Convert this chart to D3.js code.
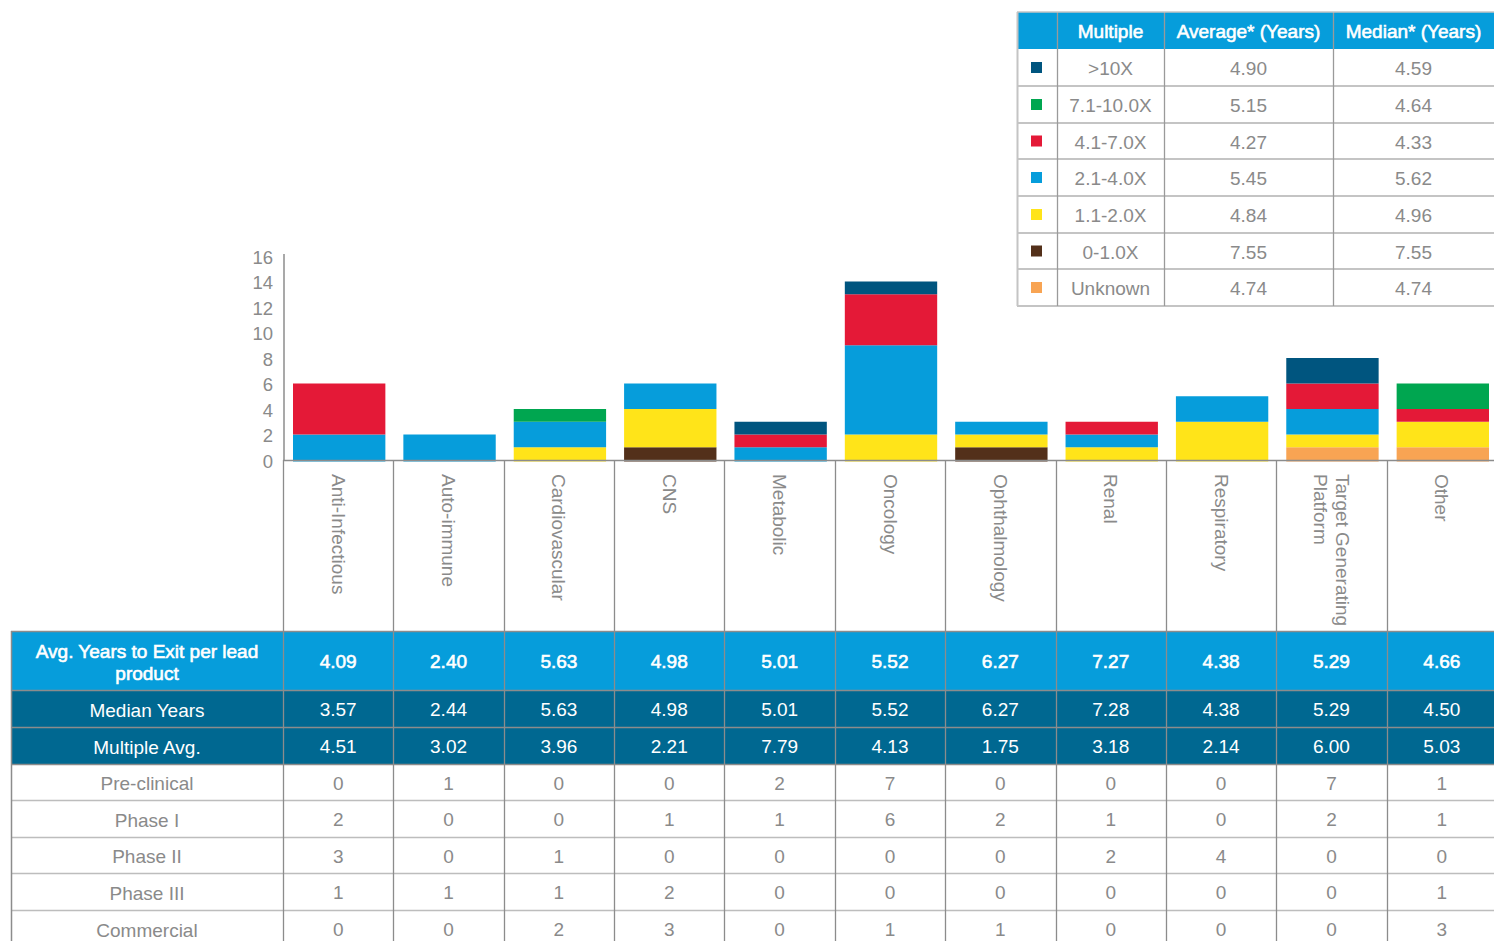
<!DOCTYPE html>
<html>
<head>
<meta charset="utf-8">
<script src="https://cdn.jsdelivr.net/npm/d3@7"></script>
<style>
  body { margin: 0; background: #fff; }
  text { font-family: "Liberation Sans", Arial, sans-serif; }
</style>
</head>
<body>
<svg id="chart" width="1494" height="941"></svg>
<script>
"use strict"

// categories along the x axis
const categories = ["Anti-Infectious", "Auto-immune", "Cardiovascular", "CNS", "Metabolic",
  "Oncology", "Ophthalmology", "Renal", "Respiratory", "Target Generating\nPlatform", "Other"]

// stacked counts per multiple bucket (bottom to top)
const unknownVals = [0, 0, 0, 0, 0, 0, 0, 0, 0, 1, 1]
const x0to1  = [0, 0, 0, 1, 0, 0, 1, 0, 0, 0, 0]
const x1to2  = [0, 0, 1, 3, 0, 2, 1, 1, 3, 1, 2]
const x2to4  = [2, 2, 2, 2, 1, 7, 1, 1, 2, 2, 0]
const x4to7  = [4, 0, 0, 0, 1, 4, 0, 1, 0, 2, 1]
const x7to10 = [0, 0, 1, 0, 0, 0, 0, 0, 0, 0, 2]
const x10plus = [0, 0, 0, 0, 1, 1, 0, 0, 0, 2, 0]

const yTicks = [0, 2, 4, 6, 8, 10, 12, 14, 16]

// table under the chart
const avgYears    = ["4.09", "2.40", "5.63", "4.98", "5.01", "5.52", "6.27", "7.27", "4.38", "5.29", "4.66"]
const medianYears = ["3.57", "2.44", "5.63", "4.98", "5.01", "5.52", "6.27", "7.28", "4.38", "5.29", "4.50"]
const multipleAvg = ["4.51", "3.02", "3.96", "2.21", "7.79", "4.13", "1.75", "3.18", "2.14", "6.00", "5.03"]
const preClinical = [0, 1, 0, 0, 2, 7, 0, 0, 0, 7, 1]
const phase1      = [2, 0, 0, 1, 1, 6, 2, 1, 0, 2, 1]
const phase2      = [3, 0, 1, 0, 0, 0, 0, 2, 4, 0, 0]
const phase3      = [1, 1, 1, 2, 0, 0, 0, 0, 0, 0, 1]
const commercial  = [0, 0, 2, 3, 0, 1, 1, 0, 0, 0, 3]

// legend table
const legendMultiples = [">10X", "7.1-10.0X", "4.1-7.0X", "2.1-4.0X", "1.1-2.0X", "0-1.0X", "Unknown"]
const legendAverage   = ["4.90", "5.15", "4.27", "5.45", "4.84", "7.55", "4.74"]
const legendMedian    = ["4.59", "4.64", "4.33", "5.62", "4.96", "7.55", "4.74"]
const legendHeader    = ["", "Multiple", "Average* (Years)", "Median* (Years)"]

const seriesKeys = ["unknown", "x0to1", "x1to2", "x2to4", "x4to7", "x7to10", "x10plus"]
const seriesVals = [unknownVals, x0to1, x1to2, x2to4, x4to7, x7to10, x10plus]
const colors = {
  x10plus: "#00557f", x7to10: "#00a650", x4to7: "#e41937", x2to4: "#069ddb",
  x1to2: "#ffe419", x0to1: "#53301a", unknown: "#f8a453"
}
const legendKeys = ["x10plus", "x7to10", "x4to7", "x2to4", "x1to2", "x0to1", "unknown"]

const lightBlue = "#069ddb"
const darkBlue = "#006891"
const gray = "#8a8a8a"
const lineGray = "#8c8c8c"
const fontSize = 19

const svg = d3.select("#chart")

const x = d3.scaleBand().domain(categories).range([283, 1497])
const y = d3.scaleLinear().domain([0, 16]).range([460, 256])

const rows = categories.map((c, i) => {
  const r = { cat: c }
  seriesKeys.forEach((k, j) => { r[k] = seriesVals[j][i] })
  return r
})
const stacked = d3.stack().keys(seriesKeys)(rows)

// bars
svg.append("g")
  .selectAll("g")
  .data(stacked)
  .join("g")
    .attr("fill", d => colors[d.key])
  .selectAll("rect")
  .data(d => d.filter(p => p[1] > p[0]))
  .join("rect")
    .attr("x", d => x(d.data.cat) + 10)
    .attr("width", x.bandwidth() - 18)
    .attr("y", d => y(d[1]))
    .attr("height", d => y(d[0]) - y(d[1]) + (d[0] === 0 ? 1.5 : 0))

// y axis
const yAxis = svg.append("g")
  .attr("transform", "translate(284,0)")
  .call(d3.axisLeft(y).tickValues(yTicks).tickSize(0).tickPadding(11))
yAxis.select(".domain").attr("stroke", lineGray).attr("stroke-width", 1.5)
  .attr("d", "M0,254V460")
yAxis.selectAll("text").attr("fill", gray).attr("font-size", 18.5).attr("dy", "0.4em")

// baseline
svg.append("line")
  .attr("x1", 283).attr("x2", 1494).attr("y1", 460.5).attr("y2", 460.5)
  .attr("stroke", lineGray).attr("stroke-width", 1.5)

// table geometry
const rowTops = [631, 690, 727, 764, 800, 837, 873, 910, 947]
const tableLeft = 11
const tableRows = [
  { label: ["Avg. Years to Exit per lead", "product"], vals: avgYears, bg: lightBlue, fg: "#fff", heavy: true },
  { label: ["Median Years"], vals: medianYears, bg: darkBlue, fg: "#fff", heavy: false },
  { label: ["Multiple Avg."], vals: multipleAvg, bg: darkBlue, fg: "#fff", heavy: false },
  { label: ["Pre-clinical"], vals: preClinical, bg: "#fff", fg: gray, heavy: false },
  { label: ["Phase I"], vals: phase1, bg: "#fff", fg: gray, heavy: false },
  { label: ["Phase II"], vals: phase2, bg: "#fff", fg: gray, heavy: false },
  { label: ["Phase III"], vals: phase3, bg: "#fff", fg: gray, heavy: false },
  { label: ["Commercial"], vals: commercial, bg: "#fff", fg: gray, heavy: false }
]

// medium weight look: regular glyphs with a thin outline
function weight(sel, heavy, col) {
  if (heavy) sel.attr("stroke", col).attr("stroke-width", 0.6)
  return sel
}

const table = svg.append("g")
tableRows.forEach((r, i) => {
  const top = rowTops[i], bottom = rowTops[i + 1], mid = (top + bottom) / 2 + 1
  table.append("rect")
    .attr("x", tableLeft).attr("y", top).attr("width", 1494 - tableLeft).attr("height", bottom - top)
    .attr("fill", r.bg)
  const lab = table.append("text")
    .attr("x", (tableLeft + 283) / 2)
    .attr("y", mid - (r.label.length - 1) * 11)
    .attr("text-anchor", "middle").attr("dominant-baseline", "central")
    .attr("fill", r.fg).attr("font-size", fontSize)
  weight(lab, r.heavy, r.fg)
  r.label.forEach((t, k) => lab.append("tspan").attr("x", (tableLeft + 283) / 2).attr("dy", k ? 22 : 0).text(t))
  const vals = table.selectAll(null)
    .data(r.vals)
    .join("text")
      .attr("x", (d, j) => x(categories[j]) + x.bandwidth() / 2)
      .attr("y", mid)
      .attr("text-anchor", "middle").attr("dominant-baseline", "central")
      .attr("fill", r.fg).attr("font-size", fontSize)
      .text(d => d)
  weight(vals, r.heavy, r.fg)
  // horizontal separator
  table.append("line")
    .attr("x1", tableLeft).attr("x2", 1494).attr("y1", top + 0.5).attr("y2", top + 0.5)
    .attr("stroke", i > 3 ? "#bdbdbd" : lineGray).attr("stroke-width", 1.5)
})
table.append("line")
  .attr("x1", tableLeft + 0.5).attr("x2", tableLeft + 0.5).attr("y1", 631).attr("y2", 941)
  .attr("stroke", lineGray).attr("stroke-width", 1.5)

// column separators from the axis down through the table
const bounds = categories.map(c => x(c))
svg.append("g")
  .selectAll("line")
  .data(bounds)
  .join("line")
    .attr("x1", d => Math.round(d) + 0.5).attr("x2", d => Math.round(d) + 0.5)
    .attr("y1", 460).attr("y2", 941)
    .attr("stroke", lineGray).attr("stroke-width", 1.3)

// category labels, rotated
const catLabels = svg.append("g")
  .selectAll("text")
  .data(categories)
  .join("text")
    .attr("transform", d => `translate(${x(d) + x.bandwidth() / 2},474) rotate(90)`)
    .attr("fill", gray).attr("font-size", fontSize)
catLabels.each(function(d) {
  const lines = d.split("\n")
  const t = d3.select(this)
  lines.forEach((l, k) => {
    t.append("tspan")
      .attr("x", 0)
      .attr("y", (k - (lines.length - 1) / 2) * 22)
      .attr("dominant-baseline", "central")
      .text(l)
  })
})

// legend table
const lgX = [1017, 1057, 1164, 1333, 1494]
const lgRowTops = [12, 49, 86, 123, 159, 196, 233, 269, 306]
const lg = svg.append("g")
lg.append("rect")
  .attr("x", lgX[0]).attr("y", lgRowTops[0]).attr("width", 1494 - lgX[0]).attr("height", lgRowTops[1] - lgRowTops[0])
  .attr("fill", lightBlue)
const heads = lg.selectAll("text.head")
  .data(legendHeader)
  .join("text")
    .attr("class", "head")
    .attr("x", (d, i) => (lgX[i] + lgX[i + 1]) / 2)
    .attr("y", (lgRowTops[0] + lgRowTops[1]) / 2 + 1)
    .attr("text-anchor", "middle").attr("dominant-baseline", "central")
    .attr("fill", "#fff").attr("font-size", fontSize)
    .text(d => d)
weight(heads, true, "#fff")

legendMultiples.forEach((m, i) => {
  const top = lgRowTops[i + 1], bottom = lgRowTops[i + 2], mid = (top + bottom) / 2
  lg.append("rect")
    .attr("x", 1031).attr("y", mid - 5.5).attr("width", 11).attr("height", 11)
    .attr("fill", colors[legendKeys[i]])
  const cells = [m, legendAverage[i], legendMedian[i]]
  cells.forEach((c, j) => {
    lg.append("text")
      .attr("x", (lgX[j + 1] + lgX[j + 2]) / 2).attr("y", mid + 1)
      .attr("text-anchor", "middle").attr("dominant-baseline", "central")
      .attr("fill", gray).attr("font-size", fontSize)
      .text(c)
  })
  lg.append("line")
    .attr("x1", lgX[0]).attr("x2", 1494).attr("y1", bottom).attr("y2", bottom)
    .attr("stroke", "#c4c4c4").attr("stroke-width", 2)
})
lgX.slice(0, 4).forEach((xx, i) => {
  lg.append("line")
    .attr("x1", xx + 0.5).attr("x2", xx + 0.5).attr("y1", lgRowTops[0]).attr("y2", lgRowTops[8])
    .attr("stroke", i === 0 ? "#c4c4c4" : "#9a9a9a").attr("stroke-width", i === 0 ? 2 : 1.3)
})
lg.append("line")
  .attr("x1", lgX[0]).attr("x2", 1494).attr("y1", lgRowTops[0]).attr("y2", lgRowTops[0])
  .attr("stroke", "#c4c4c4").attr("stroke-width", 1.5)
</script>
</body>
</html>
